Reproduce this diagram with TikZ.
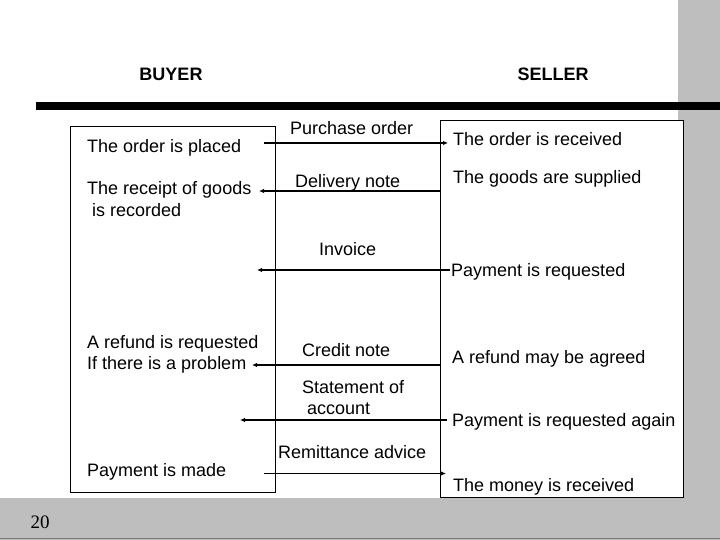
\documentclass[tikz,border=0pt]{standalone}
\usepackage{fontspec}
\setmainfont{Liberation Sans}
\newfontfamily\numfont{Liberation Serif}
\usetikzlibrary{arrows.meta}
\definecolor{bandgray}{RGB}{190,190,190}
\definecolor{edgegray}{RGB}{120,120,120}
\begin{document}
\begin{tikzpicture}[x=1pt,y=-1pt,
  lbl/.style={anchor=base west,inner sep=0pt,font=\fontsize{18}{21}\selectfont},
  head/.style={anchor=base,inner sep=0pt,font=\fontsize{18}{21}\selectfont\bfseries},
  flow/.style={line width=1.6pt,-{Latex[length=5pt,width=4.5pt]}},
  panel/.style={draw=black,line width=1pt}]
\useasboundingbox (0,0) rectangle (720,540);
% background bands
\fill[bandgray] (678,0) rectangle (720,540);
\fill[bandgray] (0,498) rectangle (720,540);
\draw[edgegray,line width=1pt] (0,538.5) -- (720,538.5);
% black rule
\fill[black] (36,102) rectangle (720,110);
% boxes
\draw[panel] (70,127) rectangle (275,492);
\draw[panel,fill=white] (440,121) rectangle (683,497);
% headings
\node[head] (buyer) at (171,81) {BUYER};
\node[head] (seller) at (553,81) {SELLER};
% buyer texts
\node[lbl] (b1) at (87,152.5) {The order is placed};
\node[lbl] (b2) at (87,195) {The receipt of goods};
\node[lbl] (b2b) at (92,216.5) {is recorded};
\node[lbl] (b3) at (87,348) {A refund is requested};
\node[lbl] (b3b) at (87,369) {If there is a problem};
\node[lbl] (b4) at (87,476.5) {Payment is made};
% document labels
\node[lbl] (d1) at (290,135) {Purchase order};
\node[lbl] (d2) at (295,188) {Delivery note};
\node[lbl] (d3) at (319,255) {Invoice};
\node[lbl] (d4) at (302,356.5) {Credit note};
\node[lbl] (d5) at (302,393) {Statement of};
\node[lbl] (d5b) at (307,414) {account};
\node[lbl] (d6) at (278,458) {Remittance advice};
% seller texts
\node[lbl] (s1) at (453,146) {The order is received};
\node[lbl] (s2) at (453,183.5) {The goods are supplied};
\node[lbl] (s3) at (451,276.5) {Payment is requested};
\node[lbl] (s4) at (452,363) {A refund may be agreed};
\node[lbl] (s5) at (452,426.5) {Payment is requested again};
\node[lbl] (s6) at (453,491.5) {The money is received};
% page number
\node[anchor=base west,inner sep=0pt,font=\numfont\fontsize{19}{22}\selectfont] (pg) at (30.5,528) {20};
% connector end points
\coordinate (a1s) at (264,143);   \coordinate (a1e) at (448,143);
\coordinate (a2s) at (440,191);   \coordinate (a2e) at (259,191);
\coordinate (a3s) at (450,270);   \coordinate (a3e) at (257,270);
\coordinate (a4s) at (440,365);   \coordinate (a4e) at (252,365);
\coordinate (a5s) at (447,420);   \coordinate (a5e) at (240,420);
\coordinate (a6s) at (264,473.5); \coordinate (a6e) at (446,473.5);
\draw[flow] (a1s) -- (a1e);
\draw[flow] (a2s) -- (a2e);
\draw[flow] (a3s) -- (a3e);
\draw[flow] (a4s) -- (a4e);
\draw[flow] (a5s) -- (a5e);
\draw[flow] (a6s) -- (a6e);
\end{tikzpicture}
\end{document}
